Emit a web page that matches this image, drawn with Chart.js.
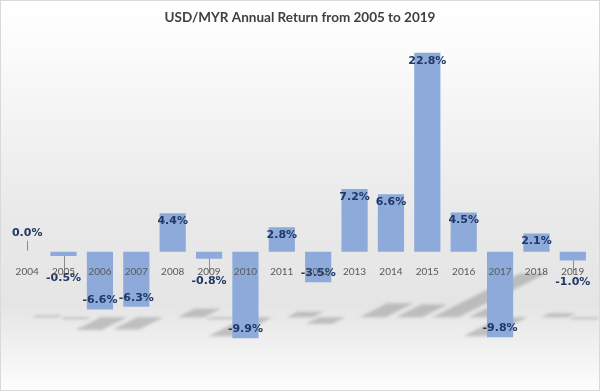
<!DOCTYPE html>
<html>
<head>
<meta charset="utf-8">
<script src="https://cdn.jsdelivr.net/npm/chart.js@4.4.0/dist/chart.umd.min.js"></script>
<style>
    html, body { margin: 0; padding: 0; background: #ffffff; }
    #wrap { width: 600px; height: 391px; }
</style>
</head>
<body>
<div id="wrap"><canvas id="returnChart" width="600" height="391"></canvas></div>
<script>

// 데이터
const years = ['2004', '2005', '2006', '2007', '2008', '2009', '2010', '2011',
               '2012', '2013', '2014', '2015', '2016', '2017', '2018', '2019'];
const annualReturn = [0.0, -0.5, -6.6, -6.3, 4.4, -0.8, -9.9, 2.8,
                      -3.5, 7.2, 6.6, 22.8, 4.5, -9.8, 2.1, -1.0];
const chartTitle = 'USD/MYR Annual Return from 2005 to 2019';

const barColor = '#8eaadb';
const labelColor = '#1f3864';


// 배경 그라데이션 + 테두리
const backgroundPlugin = {
    id: 'background',
    beforeDraw(chart) {
        const ctx = chart.ctx;
        const g = ctx.createLinearGradient(0, 0, 0, chart.height);
        g.addColorStop(0, '#ffffff');
        g.addColorStop(0.15, '#fafafa');
        g.addColorStop(0.55, '#e9e9e9');
        g.addColorStop(0.78, '#e5e5e5');
        g.addColorStop(1, '#fdfdfd');
        ctx.save();
        ctx.fillStyle = g;
        ctx.fillRect(0, 0, chart.width, chart.height);
        ctx.restore();
    },
    afterDraw(chart) {
        const ctx = chart.ctx;
        ctx.save();
        ctx.strokeStyle = '#d9d9d9';
        ctx.lineWidth = 1;
        ctx.strokeRect(0.5, 0.5, chart.width - 1, chart.height - 1);
        ctx.restore();
    }
};


// 바닥 그림자 (막대 위치 기준)
const shadowPlugin = {
    id: 'barShadow',
    beforeDatasetsDraw(chart) {
        const ctx = chart.ctx;
        const yScale = chart.scales.y;
        const floor = yScale.getPixelForValue(-7.5);
        const k = 1.93;

        ctx.save();
        ctx.filter = 'blur(1.5px)';
        ctx.fillStyle = 'rgba(120, 120, 120, 0.38)';

        chart.getDatasetMeta(0).data.forEach(function(bar, i) {
            const v = annualReturn[i];
            const w = bar.width;
            const h = Math.max(Math.abs(v) * k, 2);
            let x0;

            ctx.beginPath();
            if (v >= 0) {
                x0 = bar.x - w / 2 + 18;
                ctx.moveTo(x0, floor);
                ctx.lineTo(x0 + w, floor);
                ctx.lineTo(x0 + w + h * 2, floor - h);
                ctx.lineTo(x0 + h * 2, floor - h);
            } else {
                x0 = bar.x - w / 2 + 14;
                ctx.moveTo(x0, floor);
                ctx.lineTo(x0 + w, floor);
                ctx.lineTo(x0 + w - h * 2, floor + h);
                ctx.lineTo(x0 - h * 2, floor + h);
            }
            ctx.closePath();
            ctx.fill();
        });
        ctx.restore();
    }
};


// 데이터 라벨
const valueLabelPlugin = {
    id: 'valueLabels',
    afterDatasetsDraw(chart) {
        const ctx = chart.ctx;
        const meta = chart.getDatasetMeta(0);

        ctx.save();
        ctx.font = 'bold 11px "DejaVu Sans"';
        ctx.fillStyle = labelColor;
        ctx.textAlign = 'center';
        ctx.textBaseline = 'middle';
        ctx.strokeStyle = '#8c8c8c';
        ctx.lineWidth = 1;

        meta.data.forEach(function(bar, i) {
            const v = annualReturn[i];
            const text = v.toFixed(1) + '%';
            const x = Math.round(bar.x) + 0.5;

            if (Math.abs(v) >= 1.5) {
                const y = v > 0 ? bar.y + 8 : bar.y - 9;
                ctx.fillText(text, bar.x, y);
            } else if (v >= 0) {
                ctx.beginPath();
                ctx.moveTo(x, bar.base - 11);
                ctx.lineTo(x, bar.base - 1);
                ctx.stroke();
                ctx.fillText(text, bar.x, bar.base - 19);
            } else {
                ctx.beginPath();
                ctx.moveTo(x, bar.y);
                ctx.lineTo(x, bar.y + 14);
                ctx.stroke();
                ctx.fillText(text, bar.x, bar.y + 22);
            }
        });
        ctx.restore();
    }
};


const ctx = document.getElementById('returnChart');

new Chart(ctx.getContext('2d'), {
    type: 'bar',
    data: {
        labels: years,
        datasets: [
            {
                label: 'Annual Return',
                data: annualReturn,
                backgroundColor: barColor,
                borderWidth: 0,
                categoryPercentage: 1,
                barPercentage: 0.72
            }
        ]
    },
    options: {
        responsive: false,
        animation: false,
        layout: {
            padding: {
                left: 9,
                right: 9,
                bottom: 17
            }
        },
        plugins: {
            legend: {
                display: false
            },
            tooltip: {
                enabled: false
            },
            title: {
                display: true,
                text: chartTitle,
                color: '#404040',
                font: {
                    family: 'Lato',
                    size: 13.5,
                    weight: 'bold'
                },
                padding: {
                    top: 10,
                    bottom: 16
                }
            }
        },
        scales: {
            x: {
                position: { y: 0 },
                grid: {
                    display: false
                },
                border: {
                    display: false
                },
                ticks: {
                    z: 1,
                    color: '#595959',
                    padding: 6,
                    maxRotation: 0,
                    autoSkip: false,
                    font: {
                        family: 'Lato',
                        size: 10
                    }
                }
            },
            y: {
                display: false,
                min: -14,
                max: 24
            }
        }
    },
    plugins: [backgroundPlugin, shadowPlugin, valueLabelPlugin]
});

</script>
</body>
</html>
